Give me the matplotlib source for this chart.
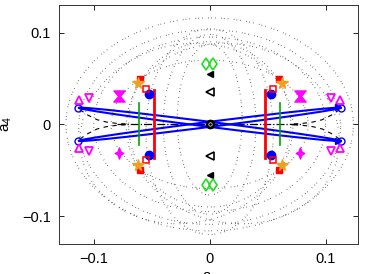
import numpy as np
import matplotlib.pyplot as plt
from matplotlib.path import Path

plt.rcParams['font.family'] = ['Liberation Sans', 'DejaVu Sans']
plt.rcParams['mathtext.fontset'] = 'custom'
plt.rcParams['mathtext.rm'] = 'Liberation Sans'

# --- data (right/upper quadrant, mirrored) ---
# dotted orbit sections: centre x, centre y, half width, half height, tilt (deg)
orb_cx = [0.000, 0.000, 0.000, -0.020, 0.020, 0.000, 0.000, 0.000, 0.000, 0.000]
orb_cy = [0.000, -0.003, 0.000, -0.010, -0.010, 0.000, 0.000, 0.005, -0.008, 0.000]
orb_rx = [0.124, 0.113, 0.100, 0.090, 0.090, 0.070, 0.040, 0.028, 0.055, 0.085]
orb_ry = [0.116, 0.106, 0.095, 0.100, 0.100, 0.090, 0.098, 0.082, 0.112, 0.070]
orb_tilt = [0, 0, 0, -25, 25, 0, 0, 0, 0, 0]

# thin blue loops: end point and half thickness
loop_end = (0.113, 0.018)
loop_w = 0.0028

# dashed curves leaving the end circles
dash_x = [0.112, 0.105, 0.097, 0.089, 0.080, 0.070]
dash_y = [0.016, 0.010, 0.005, 0.0025, 0.001, 0.0003]

# markers, upper right quadrant (mirrored to the others)
blue_dot = (0.0525, 0.033)
red_open = (0.0545, 0.039)
red_fill = (0.0600, 0.0495)
star = (0.0620, 0.0445)
tri_down = (0.1045, 0.029)
tri_up = (0.1128, 0.026)
end_circle = (0.1135, 0.018)
bowtie = (0.078, 0.031)
red_line_x, red_line_h = 0.048, 0.037
green_line_x, green_line_h = 0.0607, 0.0228

# markers on the a4 axis
tri_fill_y = 0.055
tri_open_y = 0.035
diamond_x, diamond_y = 0.003, 0.066

fig = plt.figure(figsize=(3.66, 2.74), dpi=100)
ax = fig.add_axes([59/366, 1-243.7/274, 299/366, 238.7/274])

t = np.linspace(0, 2*np.pi, 400)
for cx, cy, rx, ry, a in zip(orb_cx, orb_cy, orb_rx, orb_ry, orb_tilt):
    a = np.radians(a)
    ex, ey = rx*np.cos(t), ry*np.sin(t)
    ax.plot(cx + ex*np.cos(a) - ey*np.sin(a), cy + ex*np.sin(a) + ey*np.cos(a),
            color='#222222', ls=(0, (0.5, 3, 0.5, 2, 0.5, 5)), lw=0.8)

# blue loops
for s in [1, -1]:
    ax.plot(loop_end[0]*np.cos(t), s*loop_end[1]*np.cos(t) + loop_w*np.sin(t),
            color='b', lw=1.5, zorder=3)

# black dashed lines
ax.plot([-0.08, 0.08], [0, 0], color='k', ls='-.', lw=0.9, zorder=2)
for sx in [1, -1]:
    for sy in [1, -1]:
        ax.plot(sx*np.array(dash_x), sy*np.array(dash_y), color='k',
                ls='--', lw=0.8, dashes=(4, 4), zorder=2)

# vertical lines
for sx in [1, -1]:
    ax.plot([sx*red_line_x]*2, [-red_line_h, red_line_h], color='r', lw=2, zorder=4)
    ax.plot([sx*green_line_x]*2, [-green_line_h, green_line_h],
            color=(0, 0.65, 0), lw=1.2, zorder=4)

hourglass = Path([(-1, 1), (1, 1), (0.15, 0), (1, -1), (-1, -1), (-0.15, 0), (-1, 1)],
                 [1, 2, 2, 2, 2, 2, 79])
star4 = Path([(0, 1.1), (0.3, 0.3), (0.85, 0), (0.3, -0.3), (0, -1.1),
              (-0.3, -0.3), (-0.85, 0), (-0.3, 0.3), (0, 1.1)],
             [1, 2, 2, 2, 2, 2, 2, 2, 79])

for sx in [1, -1]:
    for sy in [1, -1]:
        ax.plot(sx*blue_dot[0], sy*blue_dot[1], 'o', color='b', ms=6, zorder=6)
        ax.plot(sx*red_open[0], sy*red_open[1], 's', mfc='none', mec='r',
                mew=1.1, ms=4.5, zorder=6)
        ax.plot(sx*red_fill[0], sy*red_fill[1], 's', color='r', ms=4.5, zorder=6)
        ax.plot(sx*star[0], sy*star[1], '*', color='#f0a020', ms=8.5, zorder=7)
        ax.plot(sx*tri_down[0], sy*tri_down[1], 'v', mfc='none', mec='#ff00ff',
                mew=1.3, ms=6, zorder=6)
        ax.plot(sx*tri_up[0], sy*tri_up[1], '^', mfc='none', mec='#ff00ff',
                mew=1.3, ms=6, zorder=6)
        ax.plot(sx*end_circle[0], sy*end_circle[1], 'o', mfc='none', mec='b',
                mew=1, ms=5, zorder=5)
        ax.plot(sx*bowtie[0], sy*bowtie[1], marker=hourglass if sy > 0 else star4,
                color='#ff00ff', ms=8, ls='none', zorder=6)
        if sx > 0:
            ax.plot(0.111, sy*0.0185, '>', color='b', ms=5, zorder=6)
    # axis markers
    ax.plot(0, sx*tri_fill_y, '<', color='k', ms=5, zorder=6)
    ax.plot(0, sx*tri_open_y, '<', mfc='none', mec='k', mew=1.2, ms=5.5, zorder=6)
    for dx in [-diamond_x, diamond_x]:
        ax.plot(dx, sx*diamond_y, 'd', mfc='none', mec='#22dd22', mew=1.2,
                ms=6.5, zorder=6)

ax.plot(0, 0, 'o', mfc='w', mec='k', mew=2, ms=5, zorder=8)
ax.plot(0, 0, '.', color='k', ms=2, zorder=9)

ax.set_xlim(-0.13, 0.128)
ax.set_ylim(-0.13, 0.13)
ax.set_xticks([-0.1, 0, 0.1])
ax.set_yticks([-0.1, 0, 0.1])
ax.set_xticklabels(['\u22120.1', '0', '0.1'])
ax.set_yticklabels(['\u22120.1', '0', '0.1'])
ax.tick_params(direction='in', top=True, right=True, length=3.5, width=0.6,
               labelsize=10.5, pad=6)
for sp in ax.spines.values():
    sp.set_linewidth(0.7)
    sp.set_color('#333333')

ax.set_ylabel(r'a$\mathregular{_4}$', fontsize=11)
ax.yaxis.set_label_coords(-0.152, 0.5)
# x label sits partly below the figure edge, as in the reference
fig.text(210/366, 1-281/274, r'a$\mathregular{_2}$', fontsize=11, ha='center',
         va='baseline')

fig.savefig('out.png', dpi=100)
